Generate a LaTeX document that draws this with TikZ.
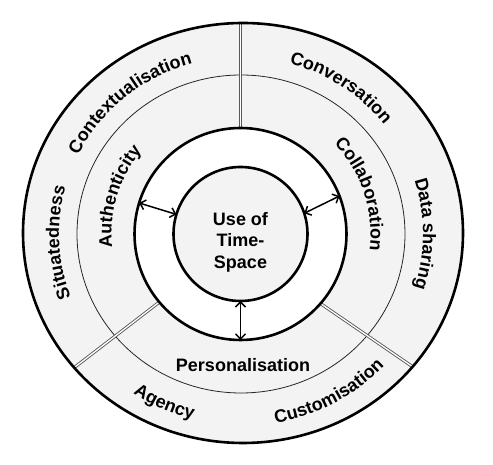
\documentclass[tikz,border=0pt]{standalone}
\usepackage{fontspec}
\setmainfont{Liberation Sans}
\usetikzlibrary{decorations.text,arrows.meta,calc,backgrounds}
\definecolor{ringfill}{RGB}{243,243,243}
\tikzset{
  thickline/.style={line width=2.6pt,draw=black},
  thinline/.style={line width=0.8pt,draw=black!85},
  divider/.style={draw=black!65,line width=0.9pt,double=white,double distance=1.3pt},
  lbl/.style={font=\bfseries\fontsize{18}{21.5}\selectfont},
  twoway/.style={line width=1.5pt,{Straight Barb[length=5pt,width=10pt]}-{Straight Barb[length=5pt,width=10pt]}},
}
\newcommand{\arctext}[6]{% center, start, end, xr, yr, text
  \path[decorate,decoration={text along path,text align=center,
    text={|\bfseries\fontsize{18}{21.5}\selectfont|#6}}]
    ($(#1)+(#2:#4 and #5)$) arc[start angle=#2,end angle=#3,x radius=#4,y radius=#5];}
\begin{document}
\begin{tikzpicture}[x=1pt,y=1pt]
\useasboundingbox (0,0) rectangle (493,465);
\coordinate (C) at (240.5,231);
\coordinate (OC) at (243,232);
\coordinate (ot) at (240.5,441);
\coordinate (ol) at (75,98);
\coordinate (or) at (413,98);
% outer border
\draw[thickline] (OC) ellipse[x radius=220,y radius=210];
% middle ring and core
\node[circle,thickline,fill=white,minimum size=212pt,inner sep=0pt,outer sep=0pt] (ring) at (C) {};
\node[circle,thickline,fill=ringfill,minimum size=134pt,inner sep=0pt,outer sep=0pt] (core) at (C) {};
\node[lbl,align=center,inner sep=0pt] (ctext) at ([yshift=-8pt]core.center) {Use of\\Time-\\Space};
\begin{pgfonlayer}{background}
  \fill[ringfill] (OC) ellipse[x radius=220,y radius=210];
  \draw[thinline] (241,231) ellipse[x radius=164,y radius=159];
  \draw[divider] (ot) -- (ring.90);
  \draw[divider] (ol) -- (ring.220);
  \draw[divider] (or) -- (ring.-41);
\end{pgfonlayer}
% arrows
\draw[twoway] (ring.163) -- (core.163);
\draw[twoway] (ring.21) -- (core.18);
\draw[twoway] (ring.270) -- (core.270);
% middle ring labels
\arctext{C}{222.9}{102.9}{129}{129}{Authenticity}
\arctext{C}{78.4}{-41.6}{130}{130}{Collaboration}
\node[lbl,inner sep=0pt] (pers) at (243,99.5) {Personalisation};
% outer ring labels
\arctext{241,231}{179.8}{79.8}{182}{177}{Contextualisation}
\arctext{241,231}{106}{6}{182}{177}{Conversation}
\arctext{241,231}{50}{-50}{182}{177}{Data sharing}
\arctext{241,231}{232.7}{132.7}{182}{177}{Situatedness}
\arctext{241,231}{206}{286}{196}{191}{Agency}
\arctext{241,231}{248.7}{348.7}{197}{192}{Customisation}
\end{tikzpicture}
\end{document}
